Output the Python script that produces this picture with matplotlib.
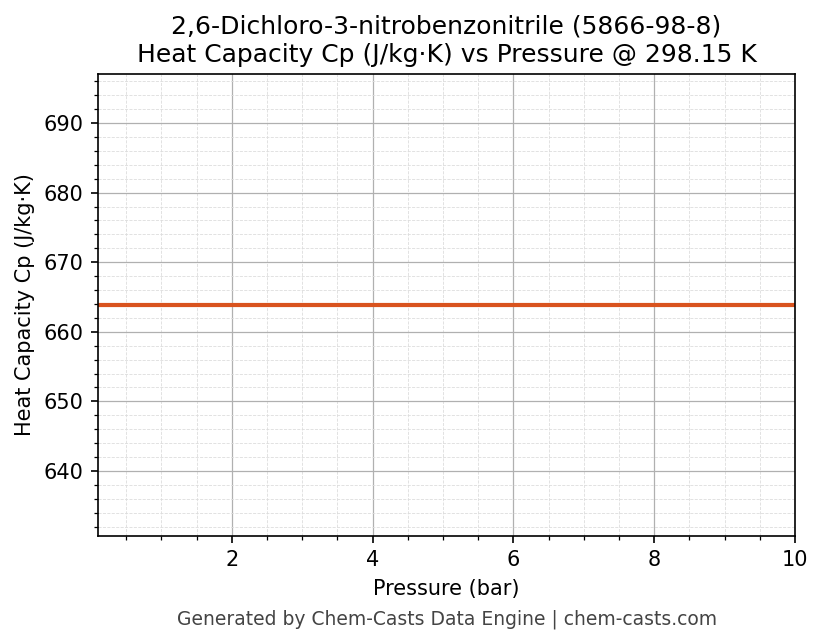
import matplotlib
matplotlib.use("Agg")
import matplotlib.pyplot as plt
from matplotlib.ticker import MultipleLocator
import numpy as np

pressure_bar = [0.1, 1.0, 2.0, 3.0, 4.0, 5.0, 6.0, 7.0, 8.0, 9.0, 10.0]
cp_values = [663.86] * len(pressure_bar)

title = "2,6-Dichloro-3-nitrobenzonitrile (5866-98-8)\nHeat Capacity Cp (J/kg·K) vs Pressure @ 298.15 K"
xlabel = "Pressure (bar)"
ylabel = "Heat Capacity Cp (J/kg·K)"
footer = "Generated by Chem-Casts Data Engine | chem-casts.com"

fig, ax = plt.subplots(figsize=(823/150, 644/150), dpi=150)
fig.subplots_adjust(left=0.119, right=0.966, top=0.885, bottom=0.168)

ax.plot(pressure_bar, cp_values, color="#D9531E", linewidth=2.0)
ax.set_xlim(min(pressure_bar), max(pressure_bar))
v = np.mean(cp_values)
ax.set_ylim(v * 0.95, v * 1.05)

ax.xaxis.set_major_locator(MultipleLocator(2))
ax.xaxis.set_minor_locator(MultipleLocator(0.5))
ax.yaxis.set_major_locator(MultipleLocator(10))
ax.yaxis.set_minor_locator(MultipleLocator(2))

ax.grid(True, which="major", color="#b0b0b0", linewidth=0.6)
ax.grid(True, which="minor", color="#dddddd", linestyle="--", linewidth=0.4)
ax.set_axisbelow(True)

ax.set_title(title, fontsize=12)
ax.set_xlabel(xlabel, fontsize=10)
ax.set_ylabel(ylabel, fontsize=10)
ax.tick_params(labelsize=10)

fig.text(0.5435, 0.023, footer, ha="center", va="bottom", fontsize=9, color="#444444")

fig.savefig("out.png", dpi=150)
